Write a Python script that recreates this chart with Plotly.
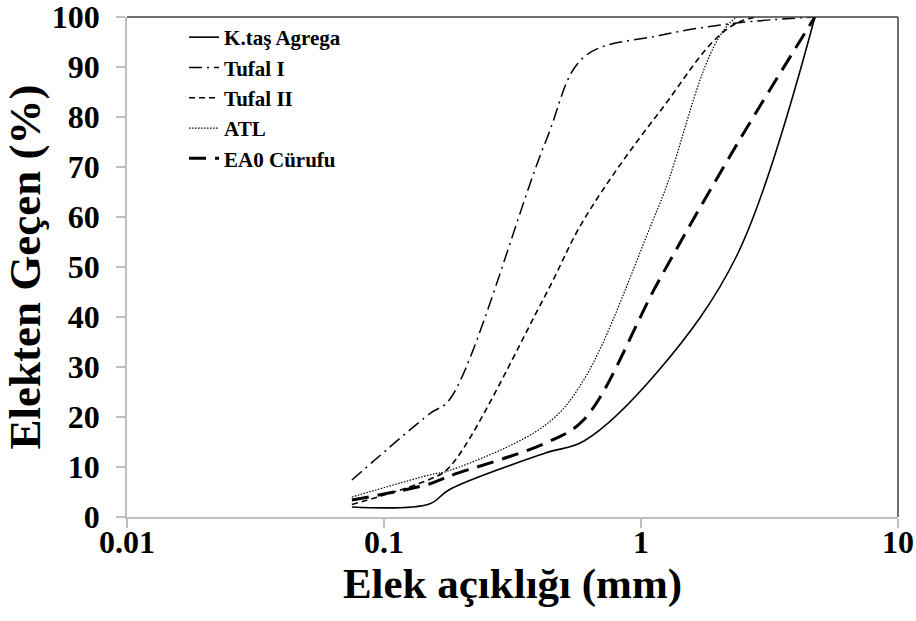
import plotly.graph_objects as go

# Sieve openings (mm) and cumulative percent passing for each material
elek = [0.075, 0.15, 0.18, 0.425, 0.6, 1.18, 2.36, 4.75]

ktas_agrega = [2.0, 2.6, 5.5, 12.8, 15.2, 29.5, 52.3, 100]
tufal_1 = [7.4, 20.6, 23.5, 75.0, 92.0, 96.3, 98.8, 100]
tufal_2 = [2.5, 7.5, 10.0, 44.4, 59.5, 81.0, 98.8, 100]
atl = [4.0, 8.4, 9.3, 18.4, 27.5, 62.5, 100, 100]
ea0_curufu = [3.4, 6.6, 8.2, 14.8, 19.5, 47.5, 74.5, 100]

x_ticks = [0.01, 0.1, 1, 10]
x_tick_labels = ["0.01", "0.1", "1", "10"]
y_ticks = [0, 10, 20, 30, 40, 50, 60, 70, 80, 90, 100]

FONT = "Liberation Serif"

series = [
    ("K.taş Agrega", ktas_agrega, dict(color="black", width=1.6, dash="solid")),
    ("Tufal I", tufal_1, dict(color="black", width=1.5, dash="13px,5px,2px,5px")),
    ("Tufal II", tufal_2, dict(color="black", width=1.6, dash="6px,4px")),
    ("ATL", atl, dict(color="black", width=1.2, dash="1.5px,1.5px")),
    ("EA0 Cürufu", ea0_curufu, dict(color="black", width=3, dash="17px,9px")),
]

fig = go.Figure()
for name, vals, line in series:
    fig.add_trace(go.Scatter(
        x=elek, y=vals, name=name, mode="lines",
        line=dict(shape="spline", smoothing=1.0, **line),
    ))

axis_grey = "#bfbfbf"
fig.update_layout(
    width=916, height=621,
    margin=dict(l=127, r=18, t=17, b=104, autoexpand=False),
    paper_bgcolor="white", plot_bgcolor="white",
    font=dict(family=FONT, color="black"),
    showlegend=True,
    legend=dict(
        x=0.074, y=1.0, xanchor="left", yanchor="top",
        bgcolor="rgba(0,0,0,0)", borderwidth=0,
        font=dict(family=FONT, size=21, color="black", weight="bold"),
        itemwidth=30, tracegroupgap=0,
    ),
    xaxis=dict(
        type="log", range=[-2, 1], automargin=False,
        tickvals=x_ticks, ticktext=x_tick_labels,
        showgrid=False, zeroline=False,
        showline=True, linecolor=axis_grey, linewidth=1.5,
        ticks="outside", ticklen=9, tickcolor=axis_grey, tickwidth=1.5,
        ticklabelstandoff=-13, ticklabeloverflow="allow",
        tickfont=dict(family=FONT, size=32, color="black", weight="bold"),
        title=dict(text="Elek açıklığı (mm)", standoff=2,
                   font=dict(family=FONT, size=43, color="black", weight="bold")),
    ),
    yaxis=dict(
        range=[0, 100], tickvals=y_ticks, automargin=False,
        showgrid=False, zeroline=False,
        showline=True, linecolor=axis_grey, linewidth=1.5,
        ticks="outside", ticklen=9, tickcolor=axis_grey, tickwidth=1.5,
        ticklabelstandoff=10, ticklabeloverflow="allow",
        tickfont=dict(family=FONT, size=32, color="black", weight="bold"),
        title=dict(text="Elekten Geçen (%)", standoff=2,
                   font=dict(family=FONT, size=45, color="black", weight="bold")),
    ),
    shapes=[
        dict(type="line", xref="paper", yref="paper", x0=0, x1=1, y0=1, y1=1,
             line=dict(color="#404040", width=1.5)),
        dict(type="line", xref="paper", yref="paper", x0=1, x1=1, y0=0, y1=1,
             line=dict(color="#404040", width=1.5)),
    ],
)

fig.write_html("out.html")
